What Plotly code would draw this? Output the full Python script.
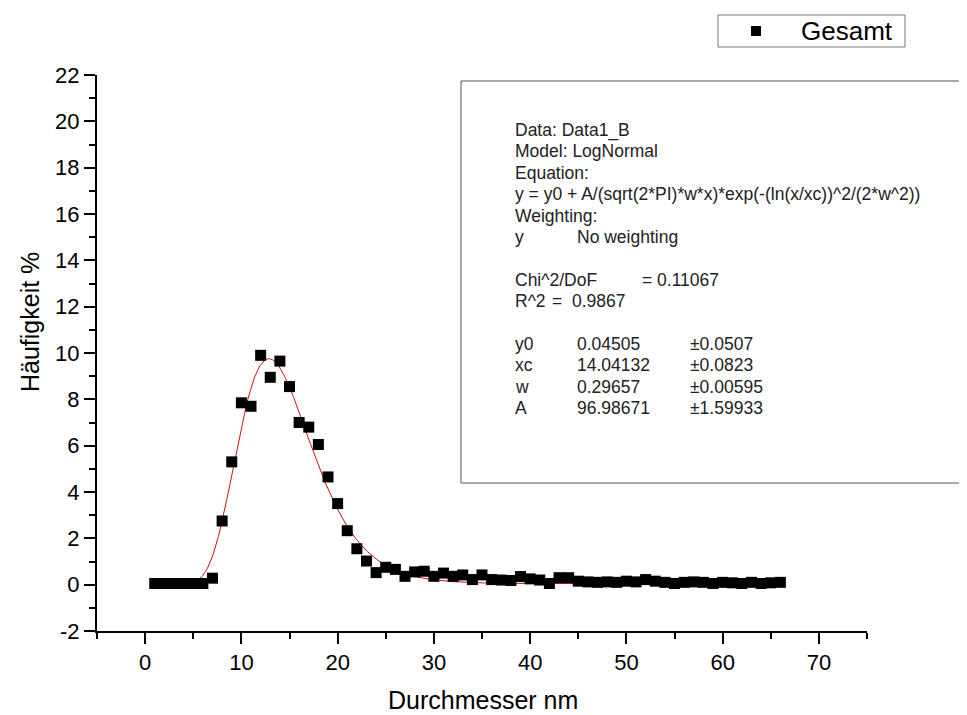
import plotly.graph_objects as go
import numpy as np

# ---- data ----
diameter_nm = list(range(1, 67))
frequency_pct = [
    0.05, 0.05, 0.05, 0.05, 0.05, 0.05, 0.28, 2.75, 5.3, 7.85,
    7.7, 9.9, 8.95, 9.65, 8.55, 7.0, 6.8, 6.05, 4.65, 3.5,
    2.33, 1.55, 1.02, 0.52, 0.75, 0.66, 0.36, 0.55, 0.58, 0.36,
    0.5, 0.36, 0.42, 0.22, 0.42, 0.22, 0.2, 0.18, 0.35, 0.25,
    0.2, 0.05, 0.3, 0.3, 0.15, 0.12, 0.1, 0.12, 0.1, 0.15,
    0.12, 0.22, 0.15, 0.1, 0.05, 0.1, 0.12, 0.1, 0.05, 0.1,
    0.08, 0.05, 0.1, 0.05, 0.08, 0.1,
]
series_name = "Gesamt"

# fit parameters shown in the chart's result box
fit_y0 = 0.04505
fit_xc = 14.04132
fit_w = 0.29657
fit_A = 96.98671
fit_range = (1.0, 66.0)

x_ticks = [0, 10, 20, 30, 40, 50, 60, 70]
y_ticks = [-2, 0, 2, 4, 6, 8, 10, 12, 14, 16, 18, 20, 22]

box_lines = [
    ("Data: Data1_B", None, None),
    ("Model: LogNormal", None, None),
    ("Equation:", None, None),
    ("y = y0 + A/(sqrt(2*PI)*w*x)*exp(-(ln(x/xc))^2/(2*w^2))", None, None),
    ("Weighting:", None, None),
    ("y", "No weighting", None),
    ("", None, None),
    ("Chi^2/DoF", "= 0.11067", None),
    ("R^2", "=  0.9867", None),
    ("", None, None),
    ("y0", "0.04505", "\u00b10.0507"),
    ("xc", "14.04132", "\u00b10.0823"),
    ("w", "0.29657", "\u00b10.00595"),
    ("A", "96.98671", "\u00b11.59933"),
]

# ---- fitted curve (the chart's own LogNormal model) ----
xf = np.linspace(fit_range[0], fit_range[1], 600)
yf = fit_y0 + fit_A / (np.sqrt(2 * np.pi) * fit_w * xf) * np.exp(-(np.log(xf / fit_xc)) ** 2 / (2 * fit_w ** 2))

FONT = "Liberation Sans, Arial, sans-serif"
OFF = 8  # page body margin
W_PX, H_PX = 967 - OFF, 715 - OFF
L, R, T, B = 97, 867, 75, 631  # plot area in window pixels


def px(x):
    return (x - L) / (R - L)


def py(y):
    return (B - y) / (B - T)


fig = go.Figure()
fig.add_trace(go.Scatter(
    x=xf, y=yf, mode="lines", line=dict(color="#d01010", width=1),
    showlegend=False, hoverinfo="skip"))
fig.add_trace(go.Scatter(
    x=diameter_nm, y=frequency_pct, mode="markers", name=series_name,
    showlegend=False,
    marker=dict(symbol="square", size=11, color="black", line=dict(width=0))))

annotations = []
# axis titles
annotations.append(dict(x=px(483), y=py(700), xref="paper", yref="paper",
                        text="Durchmesser nm", showarrow=False,
                        font=dict(size=25, color="black", family=FONT),
                        xanchor="center", yanchor="middle"))
annotations.append(dict(x=px(30), y=py(322), xref="paper", yref="paper",
                        text="Häufigkeit %", showarrow=False, textangle=-90,
                        font=dict(size=25, color="black", family=FONT),
                        xanchor="center", yanchor="middle"))
# legend label
annotations.append(dict(x=px(799), y=py(31), xref="paper", yref="paper",
                        text=series_name, showarrow=False,
                        font=dict(size=26, color="black", family=FONT),
                        xanchor="left", yanchor="middle"))

# result box text
y0_line = 130
step = 21.4
col_x = [513, 575, 688]
for i, (a, b, c) in enumerate(box_lines):
    yy = y0_line + i * step
    if b is not None and a.startswith("Chi"):
        cols = [(513, a), (640, b)]
    elif b is not None and a.startswith("R^2"):
        cols = [(513, a), (550, b)]
    else:
        cols = [(col_x[0], a), (col_x[1], b), (col_x[2], c)]
    for xx, t in cols:
        if t:
            annotations.append(dict(x=px(xx), y=py(yy), xref="paper", yref="paper",
                                    text=t, showarrow=False,
                                    font=dict(size=17.5, color="#222", family=FONT),
                                    xanchor="left", yanchor="middle"))

shapes = [
    # fit result box
    dict(type="rect", xref="paper", yref="paper",
         x0=px(461), x1=px(966), y0=py(483), y1=py(81),
         line=dict(color="#555", width=1), fillcolor="rgba(0,0,0,0)"),
    # legend frame
    dict(type="rect", xref="paper", yref="paper",
         x0=px(718), x1=px(905), y0=py(47), y1=py(15),
         line=dict(color="#777", width=1), fillcolor="white"),
    # legend symbol
    dict(type="rect", xref="paper", yref="paper",
         x0=px(751), x1=px(761), y0=py(36), y1=py(26),
         line=dict(width=0), fillcolor="black"),
]

fig.update_layout(
    width=W_PX, height=H_PX,
    margin=dict(l=L - OFF, r=967 - R, t=T - OFF, b=715 - B),
    paper_bgcolor="white", plot_bgcolor="white",
    font=dict(family=FONT, color="black"),
    showlegend=False,
    annotations=annotations,
    shapes=shapes,
)

fig.update_xaxes(
    range=[-5, 75], tickvals=x_ticks, ticktext=[str(v) for v in x_ticks],
    showgrid=False, zeroline=False, showline=True, linecolor="black", linewidth=2,
    ticks="outside", ticklen=11, tickwidth=2, tickcolor="black",
    tickfont=dict(size=22, family=FONT, color="black"),
    minor=dict(dtick=5, tick0=0, ticks="outside", ticklen=6, tickwidth=1.5, tickcolor="black", showgrid=False),
    mirror=False,
)
fig.update_yaxes(
    range=[-2, 22], tickvals=y_ticks, ticktext=[str(v) for v in y_ticks],
    showgrid=False, zeroline=False, showline=True, linecolor="black", linewidth=2,
    ticks="outside", ticklen=11, tickwidth=2, tickcolor="black",
    tickfont=dict(size=22, family=FONT, color="black"),
    minor=dict(dtick=1, tick0=0, ticks="outside", ticklen=6, tickwidth=1.5, tickcolor="black", showgrid=False),
    mirror=False,
)

fig.write_html("out.html")
